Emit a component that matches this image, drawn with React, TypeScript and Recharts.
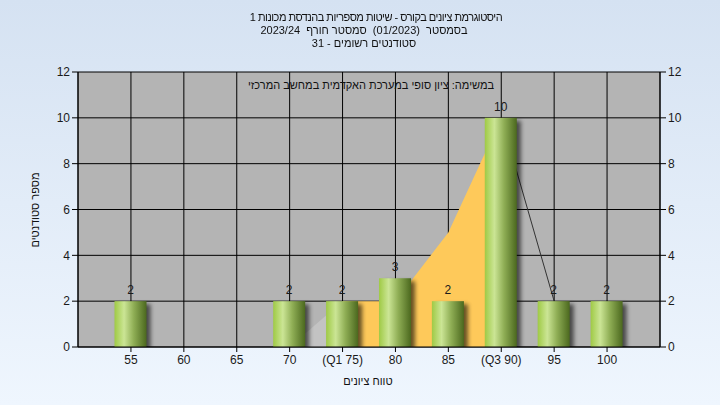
import React from 'react';
import {
  ComposedChart, Bar, Area, XAxis, YAxis, CartesianGrid, LabelList,
} from 'recharts';

const categories = ['55', '60', '65', '70', '(Q1 75)', '80', '85', '(Q3 90)', '95', '100'];
const studentCounts = [2, 0, 0, 2, 2, 3, 2, 10, 2, 2];
const lowerSpread = [null, null, null, 0, 2, null, null, null, null, null];
const quartileRange = [null, null, null, null, 2, 2, 5, 10, null, null];
const upperTail = [null, null, null, null, null, null, null, 10, 2, null];
const yTicks = [0, 2, 4, 6, 8, 10, 12];

const titleLines = [
  'היסטוגרמת ציונים בקורס - שיטות מספריות בהנדסת מכונות 1',
  'בסמסטר  (01/2023)  סמסטר חורף  2023/24',
  'סטודנטים רשומים - 31',
];
const noteText = 'במשימה: ציון סופי במערכת האקדמית במחשב המרכזי';
const xLabel = 'טווח ציונים';
const yLabel = 'מספר סטודנטים';

const data = categories.map((name, i) => ({
  name,
  count: studentCounts[i],
  spread: lowerSpread[i],
  iqr: quartileRange[i],
  tail: upperTail[i],
}));

const FONT = '"Liberation Sans", Arial, sans-serif';
const tickStyle = { fontSize: 12, fill: '#1a1a1a', fontFamily: FONT };

const ShadedBar = (props: any) => {
  const { x, y, width, height } = props;
  if (!height || height <= 0) return null;
  return (
    <g>
      <rect x={x + 4} y={y + 3} width={width} height={height} fill="#000" opacity={0.6} filter="url(#barShadow)" />
      <rect x={x} y={y} width={width} height={height} fill="url(#barGrad)" />
    </g>
  );
};

const ValueLabel = (props: any) => {
  const { x, y, width, value } = props;
  if (!value) return null;
  return (
    <text x={x + width / 2} y={y - 7} textAnchor="middle" fontSize={12} fill="#1a1a1a" fontFamily={FONT}>
      {value}
    </text>
  );
};

const overlay: React.CSSProperties = {
  position: 'absolute', fontFamily: FONT, fontSize: 11, color: '#111',
  whiteSpace: 'pre', direction: 'rtl', lineHeight: '13px',
};

export default function App() {
  return (
    <div style={{
      position: 'fixed', top: 0, left: 0, width: 720, height: 405,
      background: 'linear-gradient(to bottom, #d5e2f2, #eff6fe)',
    }}>
      <ComposedChart width={720} height={405} data={data}
        margin={{ top: 72, right: 0, bottom: 0, left: 0 }}>
        <defs>
          <linearGradient id="barGrad" x1="0" y1="0" x2="1" y2="0">
            <stop offset="0%" stopColor="#9fca45" />
            <stop offset="30%" stopColor="#cbe595" />
            <stop offset="60%" stopColor="#8fae55" />
            <stop offset="100%" stopColor="#4b681e" />
          </linearGradient>
          <filter id="barShadow" x="-50%" y="-50%" width="200%" height="200%">
            <feGaussianBlur stdDeviation="2" />
          </filter>
        </defs>
        <CartesianGrid yAxisId="left" stroke="#000" fill="#b4b4b4" strokeOpacity={1} />
        <XAxis dataKey="name" type="category" height={58} padding={{ left: 26.5, right: 26.5 }}
          axisLine={{ stroke: '#000' }} tickLine={{ stroke: '#000' }} tickSize={5} tickMargin={3}
          tick={tickStyle} interval={0} />
        <YAxis yAxisId="left" width={78} domain={[0, 12]} ticks={yTicks} allowDataOverflow
          axisLine={{ stroke: '#000' }} tickLine={{ stroke: '#000' }} tickSize={6} tickMargin={2} tick={tickStyle} />
        <YAxis yAxisId="right" orientation="right" width={60} domain={[0, 12]} ticks={yTicks} allowDataOverflow
          axisLine={{ stroke: '#000' }} tickLine={{ stroke: '#000' }} tickSize={6} tickMargin={2} tick={tickStyle} />
        <Area yAxisId="left" type="linear" dataKey="spread" stroke="none" fill="#c3c3c3" fillOpacity={1}
          isAnimationActive={false} dot={false} activeDot={false} />
        <Area yAxisId="left" type="linear" dataKey="iqr" stroke="none" fill="#fec95a" fillOpacity={1}
          isAnimationActive={false} dot={false} activeDot={false} />
        <Area yAxisId="left" type="linear" dataKey="tail" stroke="#333" strokeWidth={1} fill="none"
          isAnimationActive={false} dot={false} activeDot={false} />
        <Bar yAxisId="left" dataKey="count" barSize={32} shape={<ShadedBar />} isAnimationActive={false}>
          <LabelList dataKey="count" content={<ValueLabel />} />
        </Bar>
      </ComposedChart>

      {titleLines.map((line, i) => (
        <div key={i} style={{
          ...overlay, left: i === 0 ? 12 : 0, width: 728, textAlign: 'center', top: 11 + i * 13,
          letterSpacing: i === 0 ? '-0.5px' : undefined,
        }}>
          {line}
        </div>
      ))}
      <div style={{ ...overlay, left: 371, top: 85, transform: 'translate(-50%, -50%)' }}>{noteText}</div>
      <div style={{ ...overlay, left: 368, top: 381, transform: 'translate(-50%, -50%)' }}>{xLabel}</div>
      <div style={{ ...overlay, left: 35, top: 210, transform: 'translate(-50%, -50%) rotate(-90deg)' }}>{yLabel}</div>
    </div>
  );
}
